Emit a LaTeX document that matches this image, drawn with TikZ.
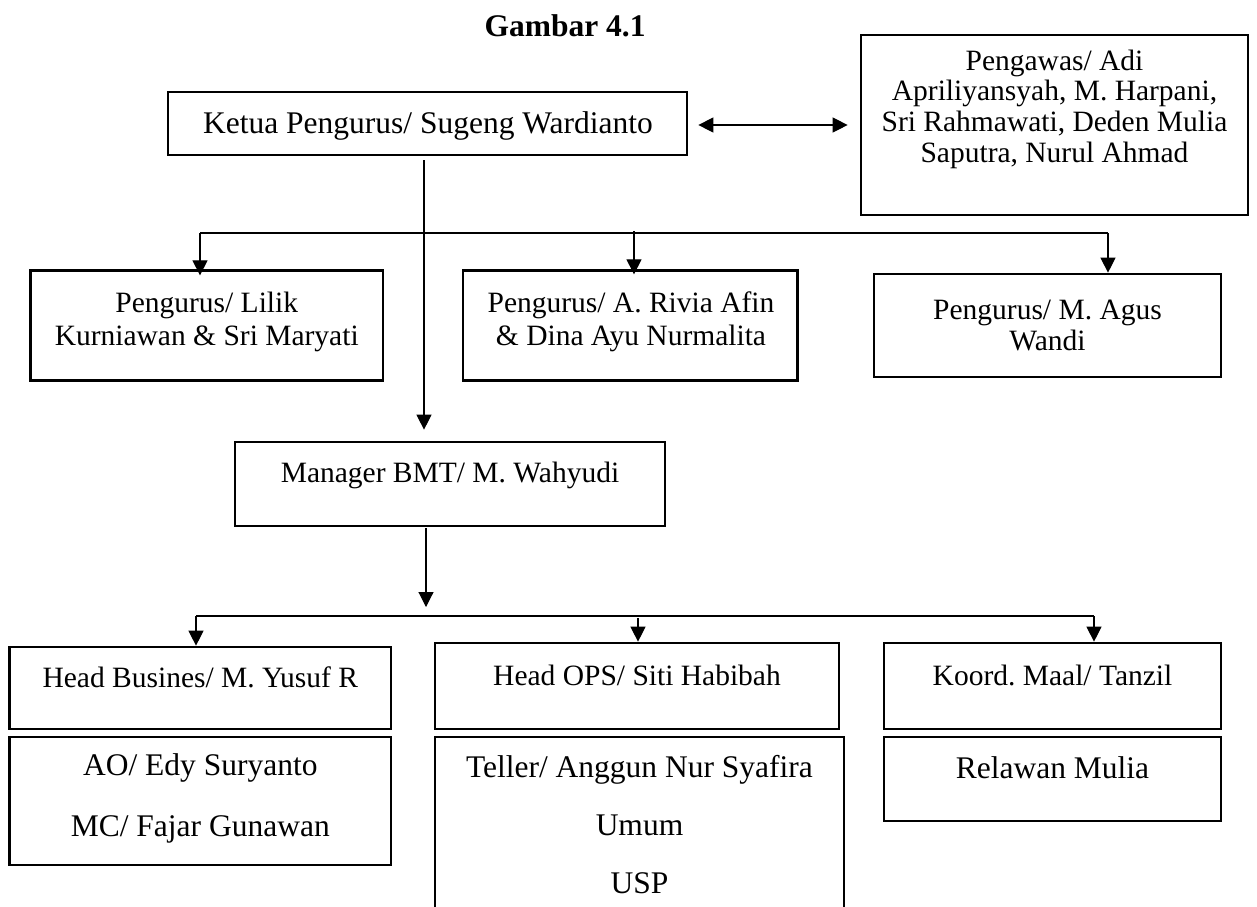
\documentclass[tikz,border=0pt]{standalone}
\usepackage{fontspec}
\setmainfont{Liberation Serif}
\usetikzlibrary{arrows.meta}
\frenchspacing
\begin{document}
\begin{tikzpicture}[x=1pt,y=-1pt,
  box/.style={draw, line width=2.7pt, rectangle, inner sep=0pt},
  btxt/.style={inner sep=0pt, align=center, font=\fontsize{31.5}{33}\selectfont},
  stxt/.style={inner sep=0pt, align=center, font=\fontsize{29.5}{30.7}\selectfont},
  conn/.style={line width=1.1pt},
  arr/.style={conn, -{Triangle[length=15pt,width=15pt]}},
  darr/.style={conn, {Triangle[length=15pt,width=15pt]}-{Triangle[length=15pt,width=15pt]}}
]
\useasboundingbox (0,0) rectangle (1257,906);
\clip (0,0) rectangle (1257,906);

% title
\node[btxt, font=\fontsize{31.5}{33}\selectfont\bfseries] (title) at (565,25.5) {Gambar 4.1};

% boxes
\node[box, minimum width=519, minimum height=63] (ketua) at (427.5,123.5) {};
\node[box, minimum width=387, minimum height=180] (pengawas) at (1054.5,125) {};
\node[box, minimum width=352.5, minimum height=110] (lilik) at (206.75,325.7) {};
\node[box, minimum width=334.6, minimum height=110] (rivia) at (630.3,325.7) {};
\node[box, minimum width=347, minimum height=103] (agus) at (1047.5,325.5) {};
\node[box, minimum width=430, minimum height=84] (mgr) at (450,484) {};
\node[box, minimum width=381.4, minimum height=82] (hb) at (200.3,688) {};
\node[box, minimum width=381.4, minimum height=128] (ao) at (200.3,801) {};
\node[box, minimum width=404, minimum height=86] (hops) at (637,686) {};
\node[box, minimum width=409, minimum height=193] (teller) at (639.5,833.5) {};
\node[box, minimum width=337, minimum height=86] (koord) at (1052.5,686) {};
\node[box, minimum width=337, minimum height=84] (rel) at (1052.5,779) {};

% texts
\node[btxt] (tketua) at (428,126) {Ketua Pengurus/ Sugeng Wardianto};
\node[stxt] (tpengawas) at (1054.5,109) {Pengawas/ Adi\\Apriliyansyah, M. Harpani,\\Sri Rahmawati, Deden Mulia\\Saputra, Nurul Ahmad};
\node[stxt, font=\fontsize{29.5}{33}\selectfont] (tlilik) at (206.75,321.5) {Pengurus/ Lilik\\Kurniawan \& Sri Maryati};
\node[stxt, font=\fontsize{29.5}{33}\selectfont] (trivia) at (631,321.5) {Pengurus/ A. Rivia Afin\\\& Dina Ayu Nurmalita};
\node[stxt, font=\fontsize{29.5}{31}\selectfont] (tagus) at (1047.5,325) {Pengurus/ M. Agus\\Wandi};
\node[stxt] (tmgr) at (450,475) {Manager BMT/ M. Wahyudi};
\node[stxt] (thb) at (200.3,677) {Head Busines/ M. Yusuf R};
\node[btxt, font=\fontsize{31.5}{61}\selectfont] (tao) at (200.3,798.5) {AO/ Edy Suryanto\\MC/ Fajar Gunawan};
\node[stxt] (thops) at (637,675) {Head OPS/ Siti Habibah};
\node[btxt, font=\fontsize{31.5}{58}\selectfont] (tteller) at (639.5,825) {Teller/ Anggun Nur Syafira\\Umum\\USP};
\node[stxt] (tkoord) at (1052.5,675) {Koord. Maal/ Tanzil};
\node[btxt] (trel) at (1052.5,768) {Relawan Mulia};

% connectors
\draw[darr, shorten <=10pt, shorten >=12pt] ([yshift=-1.5pt]ketua.east) -- ([yshift=-1.5pt]pengawas.west |- ketua.east);

\coordinate (kdown) at (424,160);
\draw[arr, shorten >=11pt] (kdown) -- (kdown |- mgr.north);

\coordinate (busL) at (200,233);
\coordinate (busM) at (634,231);
\coordinate (busR) at (1108,233);
\draw[conn] (busL) -- (busR);
\draw[arr, shorten >=-6pt] (busL) -- (busL |- lilik.north);
\draw[arr, shorten >=-5pt] (busM) -- (busM |- rivia.north);
\draw[arr] (busR) -- (busR |- agus.north);

\coordinate (mdown) at (426,528);
\coordinate (mtip) at (426,607);
\draw[arr] (mdown) -- (mtip);

\coordinate (bus2L) at (196,616);
\coordinate (bus2M) at (638,618);
\coordinate (bus2R) at (1094,616);
\draw[conn] (bus2L) -- (bus2R);
\draw[arr] (bus2L) -- (bus2L |- hb.north);
\draw[arr] (bus2M) -- (bus2M |- hops.north);
\draw[arr] (bus2R) -- (bus2R |- koord.north);
\end{tikzpicture}
\end{document}
